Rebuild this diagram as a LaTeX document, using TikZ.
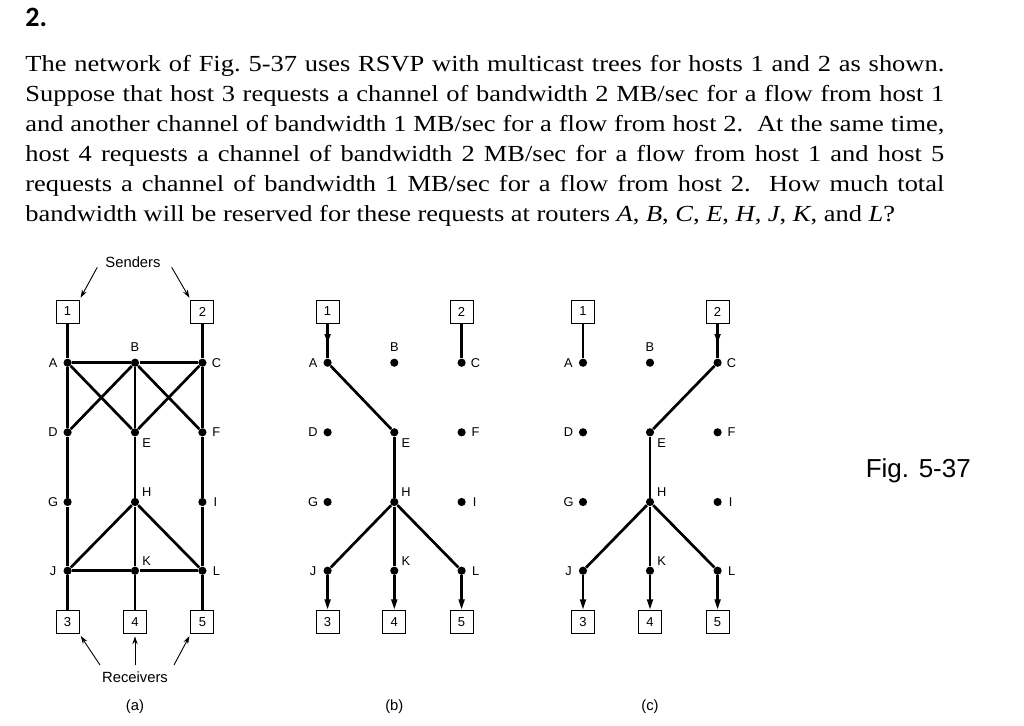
\documentclass[tikz,border=0pt]{standalone}
\usepackage{fontspec}
\setmainfont[FakeStretch=1.15]{Liberation Serif}
\newfontfamily\diagfont{Liberation Sans}
\newfontfamily\numfont{Carlito}
\usetikzlibrary{arrows.meta,decorations.markings}
\tikzset{
  dot/.style={circle,fill=black,inner sep=0pt,minimum size=4.1pt},
  host/.style={draw,line width=0.5pt,minimum size=11.5pt,inner sep=0pt,font=\diagfont\fontsize{6.5}{7}\selectfont},
  lab/.style={inner sep=0pt,font=\diagfont\fontsize{6.4}{7}\selectfont},
  captext/.style={inner sep=0pt,font=\diagfont\fontsize{7.4}{8}\selectfont},
  link/.style={line width=1.35pt},
  downarrow/.style={link,-{Triangle[length=5.5pt,width=2.8pt]}},
  midarrow/.style={link,postaction={decorate},decoration={markings,mark=at position 0.58 with {\arrow{Triangle[length=4.8pt,width=2.8pt]}}}},
  ptr/.style={line width=0.45pt,-{Stealth[length=4pt,width=2.6pt]},shorten >=1pt},
  txtline/.style={anchor=base west,inner sep=0pt,font=\fontsize{11.5}{13}\selectfont}
}
% #1 prefix, #2 xL, #3 xM, #4 xR
\newcommand\mynet[4]{%
  \node[dot] (#1A) at (#2,362.7) {};
  \node[dot] (#1B) at (#3,362.7) {};
  \node[dot] (#1C) at (#4,362.7) {};
  \node[dot] (#1D) at (#2,432.3) {};
  \node[dot] (#1E) at (#3,432.3) {};
  \node[dot] (#1F) at (#4,432.3) {};
  \node[dot] (#1G) at (#2,502) {};
  \node[dot] (#1H) at (#3,502) {};
  \node[dot] (#1I) at (#4,502) {};
  \node[dot] (#1J) at (#2,570.7) {};
  \node[dot] (#1K) at (#3,570.7) {};
  \node[dot] (#1L) at (#4,570.7) {};
  \path (#1A) ++(-14.5,0) node[lab] (#1A-l) {A};
  \path (#1B) ++(0,-16) node[lab] (#1B-l) {B};
  \path (#1C) ++(14,0) node[lab] (#1C-l) {C};
  \path (#1D) ++(-14.5,0) node[lab] (#1D-l) {D};
  \path (#1E) ++(11.7,10.4) node[lab] (#1E-l) {E};
  \path (#1F) ++(14,0) node[lab] (#1F-l) {F};
  \path (#1G) ++(-14.5,0) node[lab] (#1G-l) {G};
  \path (#1H) ++(11.7,-9.7) node[lab] (#1H-l) {H};
  \path (#1I) ++(13,0) node[lab] (#1I-l) {I};
  \path (#1J) ++(-14.5,0) node[lab] (#1J-l) {J};
  \path (#1K) ++(11.7,-9.7) node[lab] (#1K-l) {K};
  \path (#1L) ++(14,0) node[lab] (#1L-l) {L};
  \node[host] (#1h1) at (#2,311.5) {1};
  \node[host] (#1h2) at (#4,311.5) {2};
  \node[host] (#1h3) at (#2,622.3) {3};
  \node[host] (#1h4) at (#3,622.3) {4};
  \node[host] (#1h5) at (#4,622.3) {5};
}
\begin{document}
\begin{tikzpicture}[x=0.5pt,y=-0.5pt]
\fill[white] (0,0) rectangle (1024,725);
\useasboundingbox (0,0) rectangle (1024,725);

% heading and question text
\node[anchor=base west,inner sep=0pt,font=\numfont\bfseries\fontsize{14}{16}\selectfont] (num) at (25,26) {2.};
\node[txtline] (t1) at (25,71.7) {\makebox[459.5pt][s]{The network of Fig.\ 5-37 uses RSVP with multicast trees for hosts 1 and 2 as shown.}};
\node[txtline] (t2) at (25,101.7) {\makebox[459.5pt][s]{Suppose that host 3 requests a channel of bandwidth 2 MB/sec for a flow from host 1}};
\node[txtline] (t3) at (25,131.7) {\makebox[459.5pt][s]{and another channel of bandwidth 1 MB/sec for a flow from host 2.\ \ At the same time,}};
\node[txtline] (t4) at (25,161.7) {\makebox[459.5pt][s]{host 4 requests a channel of bandwidth 2 MB/sec for a flow from host 1 and host 5}};
\node[txtline] (t5) at (25,191.7) {\makebox[459.5pt][s]{requests a channel of bandwidth 1 MB/sec for a flow from host 2.\ \ How much total}};
\node[txtline] (t6) at (25,221.7) {bandwidth will be reserved for these requests at routers \textit{A}, \textit{B}, \textit{C}, \textit{E}, \textit{H}, \textit{J}, \textit{K}, and \textit{L}?};

% ---------- (a) ----------
\mynet{a}{67.6}{135}{202.4}
\draw[link] (ah1) -- (aA);
\draw[link] (ah2) -- (aC);
\draw[link] (aA) -- (aB);
\draw[link] (aB) -- (aC);
\draw[link] (aA) -- (aD);
\draw[link] (aA) -- (aE);
\draw[link] (aB) -- (aD);
\draw[link] (aB) -- (aE);
\draw[link] (aB) -- (aF);
\draw[link] (aC) -- (aE);
\draw[link] (aC) -- (aF);
\draw[link] (aD) -- (aG);
\draw[link] (aG) -- (aJ);
\draw[link] (aE) -- (aH);
\draw[link] (aH) -- (aK);
\draw[link] (aF) -- (aI);
\draw[link] (aI) -- (aL);
\draw[link] (aH) -- (aJ);
\draw[link] (aH) -- (aL);
\draw[link] (aJ) -- (aK);
\draw[link] (aK) -- (aL);
\draw[link] (aJ) -- (ah3);
\draw[link] (aK) -- (ah4);
\draw[link] (aL) -- (ah5);

\node[captext] (snd) at (133,261.7) {Senders};
\coordinate (sa1) at (97.3,267.3);
\coordinate (sa2) at (171.7,267.3);
\draw[ptr] (sa1) -- (ah1.north east);
\draw[ptr] (sa2) -- (ah2.north west);

\node[captext] (rcv) at (135,676.7) {Receivers};
\coordinate (ra3) at (100,665);
\coordinate (ra4) at (135,665);
\coordinate (ra5) at (174,665);
\draw[ptr] (ra3) -- (ah3.south east);
\draw[ptr] (ra4) -- (ah4.south);
\draw[ptr] (ra5) -- (ah5.south west);
\node[captext] (capa) at (135,706.7) {(a)};

% ---------- (b) ----------
\mynet{b}{327.6}{394.3}{461.6}
\draw[midarrow] (bh1) -- (bA);
\draw[link] (bh2) -- (bC);
\draw[link] (bA) -- (bE);
\draw[link] (bE) -- (bH);
\draw[link] (bH) -- (bJ);
\draw[link] (bH) -- (bK);
\draw[link] (bH) -- (bL);
\draw[downarrow] (bJ) -- (bh3);
\draw[downarrow] (bK) -- (bh4);
\draw[downarrow] (bL) -- (bh5);
\node[captext] (capb) at (394.3,706.7) {(b)};

% ---------- (c) ----------
\mynet{c}{583}{650}{717.6}
\draw[link] (ch1) -- (cA);
\draw[midarrow] (ch2) -- (cC);
\draw[link] (cC) -- (cE);
\draw[link] (cE) -- (cH);
\draw[link] (cH) -- (cJ);
\draw[link] (cH) -- (cK);
\draw[link] (cH) -- (cL);
\draw[downarrow] (cJ) -- (ch3);
\draw[downarrow] (cK) -- (ch4);
\draw[downarrow] (cL) -- (ch5);
\node[captext] (capc) at (650,706.7) {(c)};

\node[inner sep=0pt,font=\diagfont\fontsize{13}{15}\selectfont] (fig) at (918.3,470.7) {Fig. 5-37};
\end{tikzpicture}
\end{document}
